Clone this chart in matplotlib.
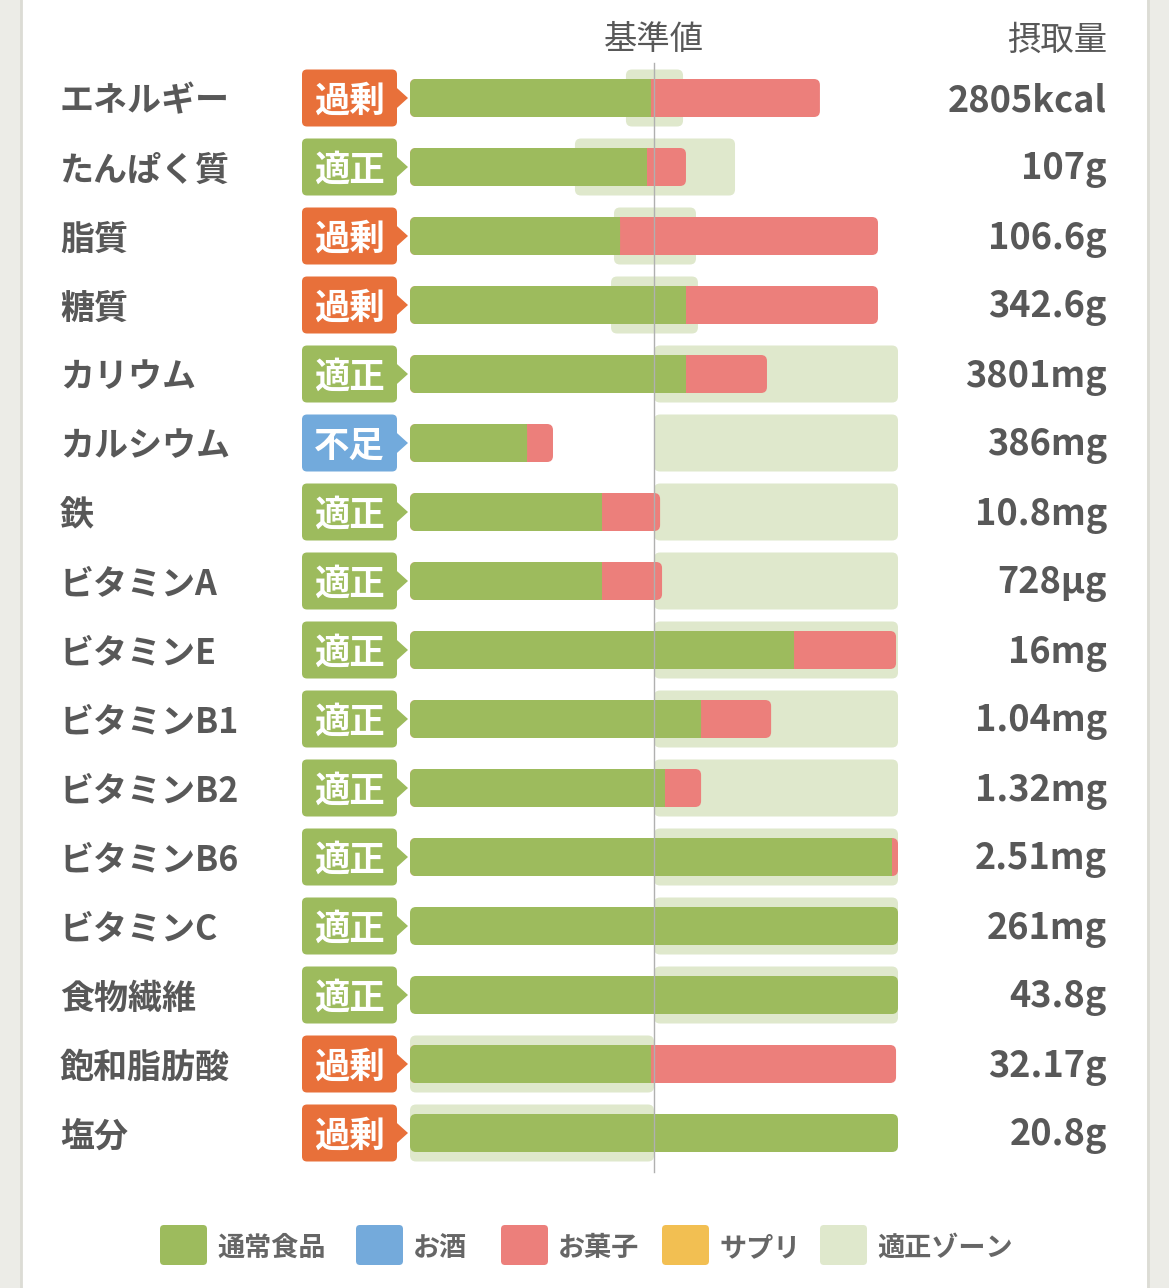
import matplotlib
matplotlib.use("Agg")
import matplotlib.pyplot as plt
from matplotlib.patches import FancyBboxPatch, Rectangle, Polygon

plt.rcParams['font.family'] = ['Noto Sans CJK JP', 'DejaVu Sans']

# ---------------- data ----------------
nutrients = ["エネルギー", "たんぱく質", "脂質", "糖質", "カリウム", "カルシウム", "鉄",
             "ビタミンA", "ビタミンE", "ビタミンB1", "ビタミンB2", "ビタミンB6",
             "ビタミンC", "食物繊維", "飽和脂肪酸", "塩分"]
status = ["過剰", "適正", "過剰", "過剰", "適正", "不足", "適正", "適正", "適正",
          "適正", "適正", "適正", "適正", "適正", "過剰", "過剰"]
intake_text = ["2805kcal", "107g", "106.6g", "342.6g", "3801mg", "386mg", "10.8mg",
               "728µg", "16mg", "1.04mg", "1.32mg", "2.51mg", "261mg", "43.8g",
               "32.17g", "20.8g"]
# percent of reference value (axis 0-200 %)
food_pct = [98.8, 97.1, 86.1, 113.1, 113.1, 48.0, 78.7, 78.7, 157.4, 119.3,
            104.5, 197.5, 200, 200, 98.8, 200]
snack_pct = [69.2, 16.0, 105.7, 78.7, 33.2, 10.6, 23.8, 24.6, 41.8, 28.7,
             14.8, 2.5, 0, 0, 100.4, 0]
zone_lo = [88.5, 67.6, 83.6, 82.4, 100, 100, 100, 100, 100, 100, 100, 100, 100, 100, 0, 0]
zone_hi = [111.9, 133.2, 117.2, 118.0, 200, 200, 200, 200, 200, 200, 200, 200, 200, 200, 100, 100]
legend_labels = ["通常食品", "お酒", "お菓子", "サプリ", "適正ゾーン"]

# ---------------- styles ----------------
C_FOOD = "#9dbb5d"
C_ALC = "#74aadb"
C_SNACK = "#ec7f7b"
C_SUPP = "#f2bf52"
C_ZONE = "#dfe8cc"
C_TEXT = "#585858"
badge_colors = {"過剰": "#e8703a", "適正": "#9dbb5d", "不足": "#72aadc"}
legend_colors = [C_FOOD, C_ALC, C_SNACK, C_SUPP, C_ZONE]

W, H = 1169, 1288
X0_PX, X200_PX = 410, 898          # pixel span of 0..200 %
PX_PER_PCT = (X200_PX - X0_PX) / 200.0
ROW0_PX, ROW_PX = 98, 69           # first row centre and row pitch


def px2x(px):
    return (px - X0_PX) / PX_PER_PCT


def py2y(py):
    return (py - ROW0_PX) / ROW_PX


ASPECT = PX_PER_PCT / ROW_PX
TXT_DY = 3 / ROW_PX

fig = plt.figure(figsize=(W / 100, H / 100), dpi=100)
fig.patch.set_facecolor("#ecece7")
ax = fig.add_axes([0, 0, 1, 1])
ax.set_xlim(px2x(0), px2x(W))
ax.set_ylim(py2y(H), py2y(0))
ax.axis("off")

# white card
ax.add_patch(Rectangle((px2x(22), py2y(0)), px2x(1147) - px2x(22), py2y(H) - py2y(0),
                       facecolor="white", edgecolor="none", zorder=0))
ax.plot([px2x(21), px2x(21)], [py2y(0), py2y(H)], color="#dcdcd5", lw=2, zorder=0.5)
ax.plot([px2x(1148), px2x(1148)], [py2y(0), py2y(H)], color="#dcdcd5", lw=2, zorder=0.5)


def rbox(x0, x1, yc, h, color, r_px=6, z=2):
    r = r_px / PX_PER_PCT
    p = FancyBboxPatch((x0, yc - h / 2), x1 - x0, h,
                       boxstyle=f"round,pad=0,rounding_size={r}",
                       mutation_aspect=ASPECT, facecolor=color, edgecolor="none", zorder=z)
    ax.add_patch(p)


BAR_H = 38 / ROW_PX
ZONE_H = 57 / ROW_PX
BADGE_H = 57 / ROW_PX
r_sq = 6 / PX_PER_PCT

for i in range(len(nutrients)):
    y = i
    # label
    ax.text(px2x(60), y + TXT_DY, nutrients[i], ha="left", va="center", fontsize=24.5,
            fontweight="bold", color=C_TEXT)
    # value
    ax.text(px2x(1107), y + TXT_DY, intake_text[i], ha="right", va="center", fontsize=26,
            fontweight="bold", color=C_TEXT)
    # badge
    bx0, bx1 = px2x(302), px2x(397)
    rbox(bx0, bx1, y, BADGE_H, badge_colors[status[i]], r_px=5, z=2)
    tri = Polygon([[bx1 - 0.5, y - 11 / ROW_PX], [px2x(408), y], [bx1 - 0.5, y + 11 / ROW_PX]],
                  closed=True, facecolor=badge_colors[status[i]], edgecolor="none", zorder=2)
    ax.add_patch(tri)
    ax.text((bx0 + bx1) / 2, y + TXT_DY, status[i], ha="center", va="center", fontsize=25.5,
            fontweight="bold", color="white", zorder=3)
    # zone
    rbox(zone_lo[i], zone_hi[i], y, ZONE_H, C_ZONE, r_px=6, z=1)
    # bars
    total = food_pct[i] + snack_pct[i]
    if snack_pct[i] > 0:
        rbox(0, total, y, BAR_H, C_SNACK, r_px=6, z=3)
    g = food_pct[i]
    rbox(0, g, y, BAR_H, C_FOOD, r_px=6, z=4)
    if snack_pct[i] > 0:
        ax.add_patch(Rectangle((max(0, g - r_sq), y - BAR_H / 2), min(r_sq, g), BAR_H,
                               facecolor=C_FOOD, edgecolor="none", zorder=4))

# reference line
ax.plot([100, 100], [py2y(63), py2y(1172)], color="#b0b0b0", lw=1, zorder=5)

# headers
ax.text(100, py2y(37) + TXT_DY, "基準値", ha="center", va="center", fontsize=24, color=C_TEXT)
ax.text(px2x(1107), py2y(37) + TXT_DY, "摂取量", ha="right", va="center", fontsize=24,
        color=C_TEXT)

# legend
leg_sq_px = [160, 356, 501, 662, 820]
yl = py2y(1245)
for lab, col, sx in zip(legend_labels, legend_colors, leg_sq_px):
    p = FancyBboxPatch((px2x(sx), yl - 20 / ROW_PX), 47 / PX_PER_PCT, 40 / ROW_PX,
                       boxstyle=f"round,pad=0,rounding_size={4 / PX_PER_PCT}",
                       mutation_aspect=ASPECT, facecolor=col, edgecolor="none", zorder=2)
    ax.add_patch(p)
    ax.text(px2x(sx + 57), yl + TXT_DY, lab, ha="left", va="center", fontsize=19.5,
            fontweight="bold", color="#666666")

fig.savefig("out.png", dpi=100, facecolor=fig.get_facecolor())
